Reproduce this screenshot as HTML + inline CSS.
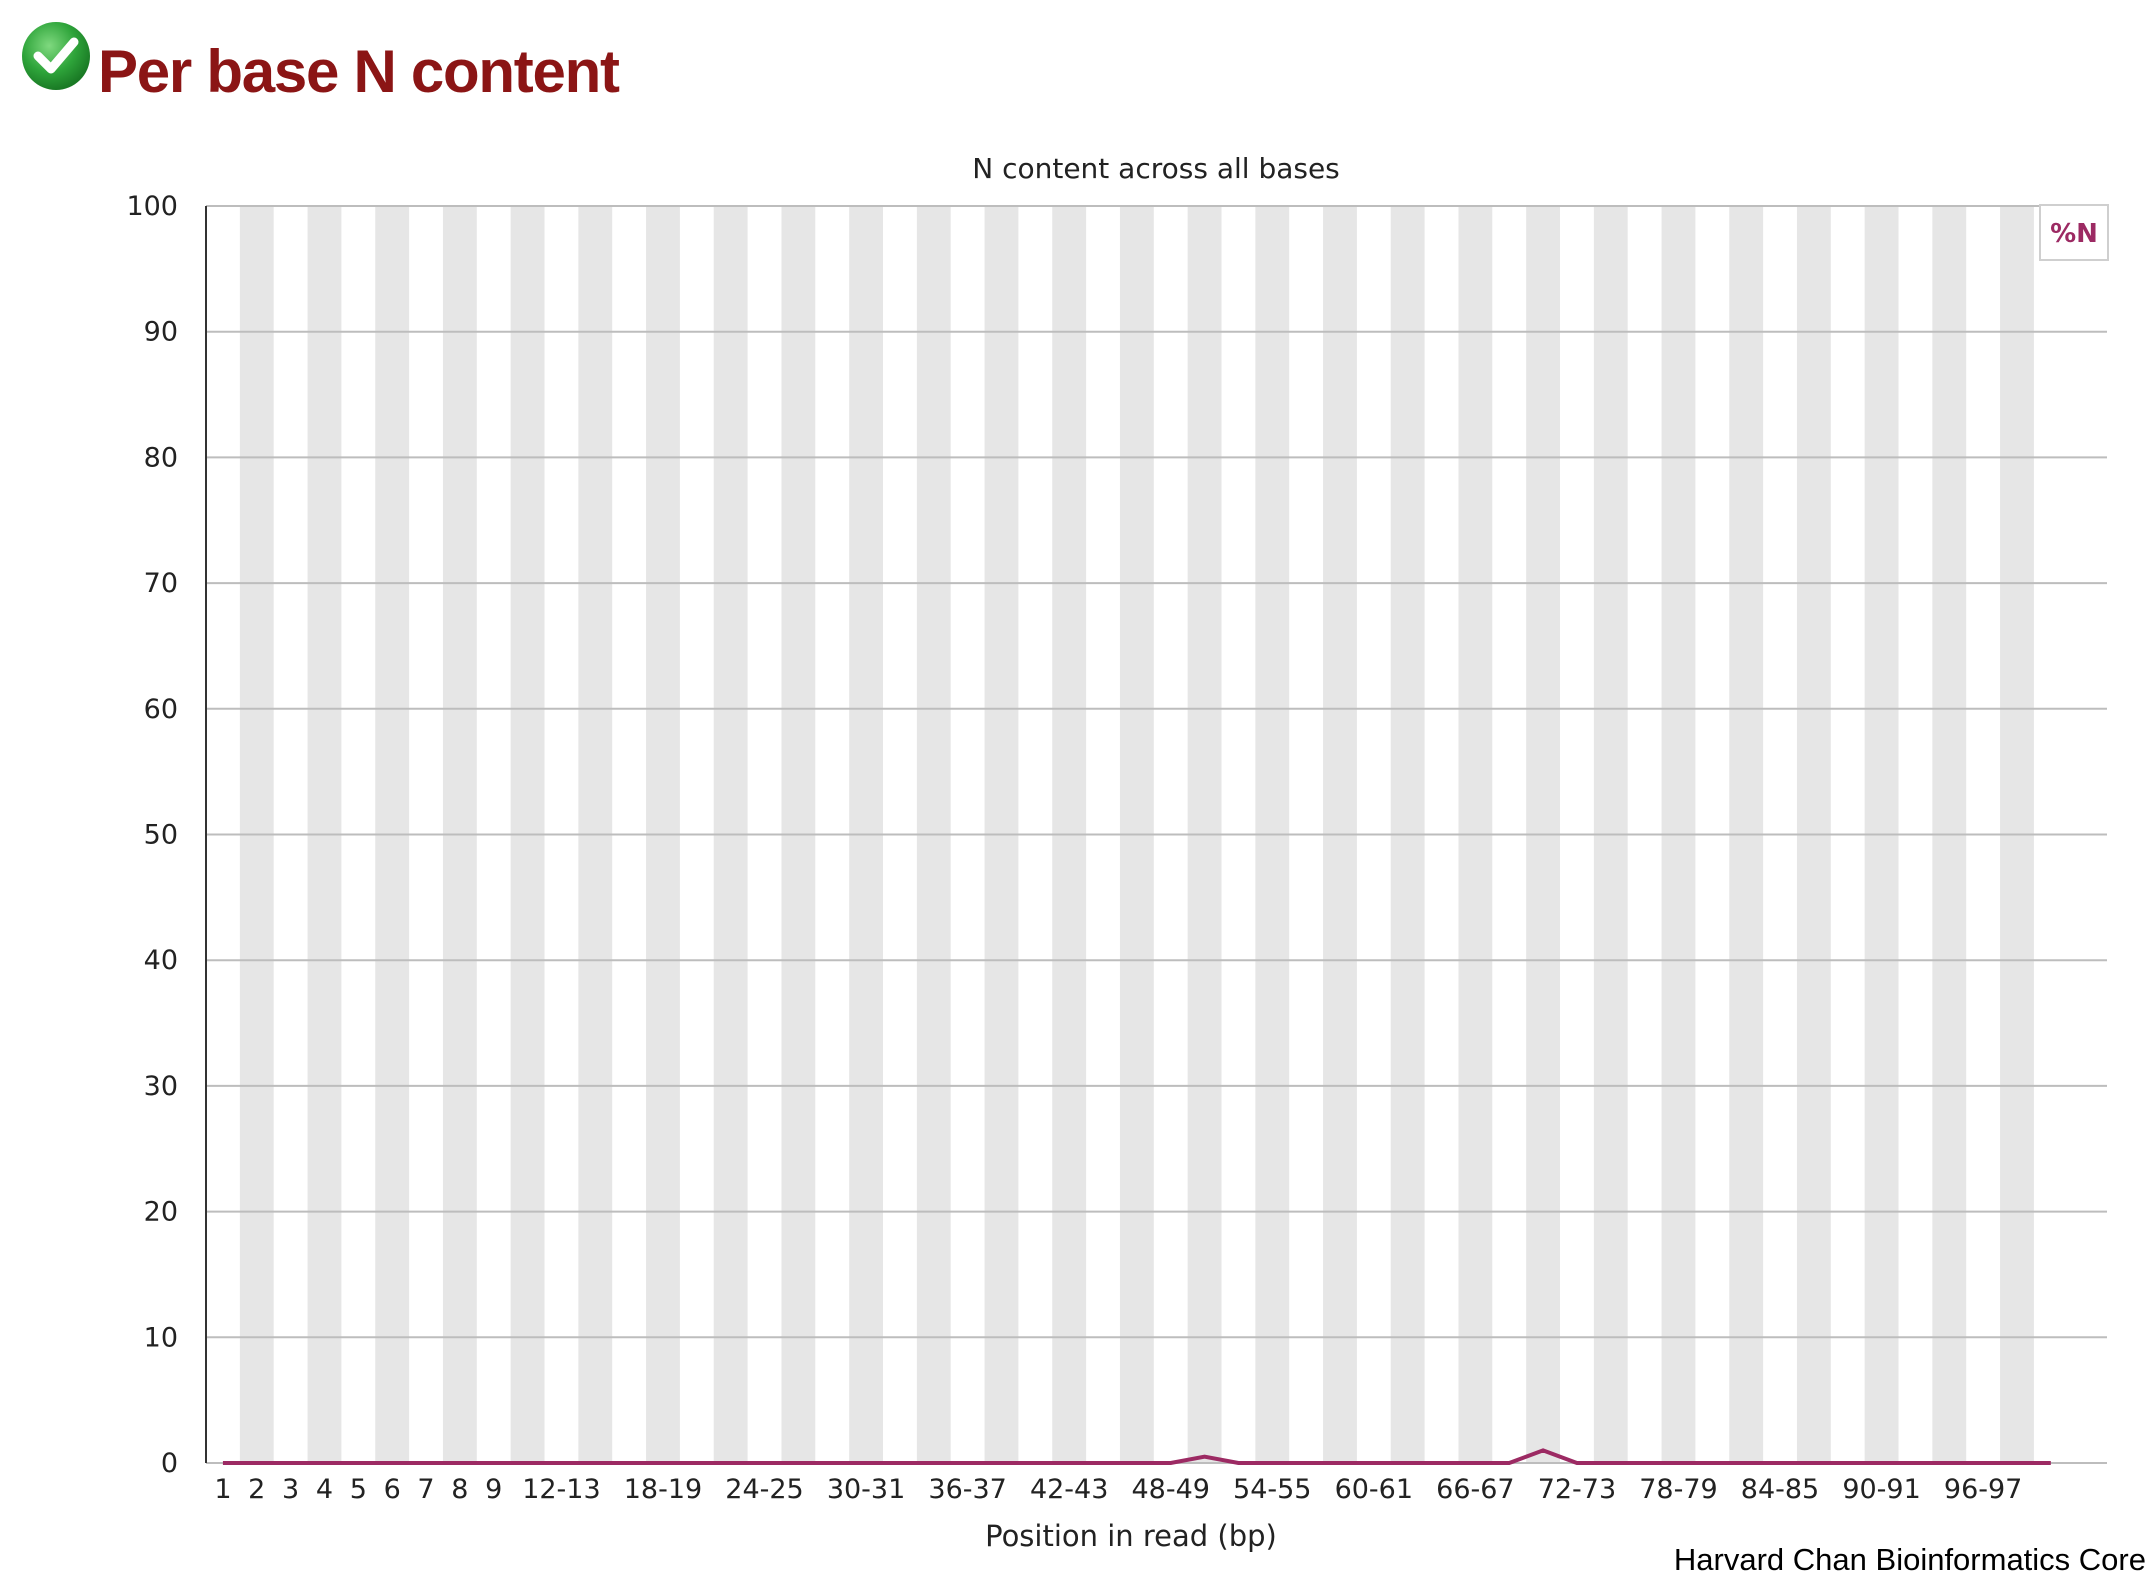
<!DOCTYPE html>
<html><head><meta charset="utf-8"><style>
body{margin:0;background:#fff;width:2150px;height:1583px;overflow:hidden}
svg text{font-family:"DejaVu Sans","Liberation Sans",sans-serif}
</style></head><body>
<svg id="c" width="2150" height="1583" viewBox="0 0 2150 1583" xmlns="http://www.w3.org/2000/svg">
<defs><radialGradient id="g" cx="40%" cy="35%" r="65%"><stop offset="0" stop-color="#7fd97f"/><stop offset="0.6" stop-color="#2ea43a"/><stop offset="1" stop-color="#1a7a25"/></radialGradient></defs>
<g><circle cx="56" cy="56" r="34" fill="url(#g)"/><path d="M38 56 L51 69 L74 42" stroke="#fff" stroke-width="9" fill="none" stroke-linecap="round" stroke-linejoin="round"/></g>
<text x="98" y="92" font-family="Liberation Sans" font-weight="bold" font-size="60" fill="#8b1515" style="font-family:'Liberation Sans',sans-serif" textLength="522">Per base N content</text>
<g id="plot"></g>
<text x="1156" y="178" font-size="28" text-anchor="middle" fill="#222">N content across all bases</text>
<text x="1131" y="1546" font-size="29" text-anchor="middle" fill="#222">Position in read (bp)</text>
<text x="2146" y="1570" font-size="31" text-anchor="end" fill="#000" style="font-family:'Liberation Sans',sans-serif">Harvard Chan Bioinformatics Core</text>
</svg>
<script>
const categories=["1","2","3","4","5","6","7","8","9"];
for(let b=10;b<=100;b+=2)categories.push(b+"-"+(b+1));
const nValues=[0,0,0,0,0,0,0,0,0,0,0,0,0,0,0,0,0,0,0,0,0,0,0,0,0,0,0,0,0,0.5,0,0,0,0,0,0,0,0,0,1.0,0,0,0,0,0,0,0,0,0,0,0,0,0,0,0];
const yTicks=[0,10,20,30,40,50,60,70,80,90,100];
const xLabelIdx=[0,1,2,3,4,5,6,7,8,10,13,16,19,22,25,28,31,34,37,40,43,46,49,52];
const L=206,R=2107,T=206,B=1463,W=33.85;
const NS="http://www.w3.org/2000/svg";
const g=document.getElementById('plot');
const X=i=>L+(i+0.5)*W, Y=v=>B-(v/100)*(B-T);
function mk(t,a){const e=document.createElementNS(NS,t);for(const k in a)e.setAttribute(k,a[k]);g.appendChild(e);return e;}
for(let i=1;i<categories.length;i+=2){
 const r=mk('rect',{x:L+i*W,y:T,width:W,height:B-T,fill:'#e6e6e6'});
 
 
}
yTicks.forEach(v=>{
 const l=mk('line',{x1:L,x2:R,y1:Y(v),y2:Y(v),stroke:'#bdbdbd','stroke-width':2});
 
 
 const t=mk('text',{x:178,y:Y(v)+9,'font-size':27,'text-anchor':'end',fill:'#222'});
 t.textContent=v;
 
 
});
const ax=mk('line',{x1:L,x2:L,y1:T,y2:B,stroke:'#333','stroke-width':2});


xLabelIdx.forEach(i=>{
 const t=mk('text',{x:X(i),y:B+35,'font-size':27,'text-anchor':'middle',fill:'#222'});
 t.textContent=categories[i];
 
 
});
const pl=mk('polyline',{points:nValues.map((v,i)=>X(i)+','+Y(v)).join(' '),fill:'none',stroke:'#9c2a63','stroke-width':4});


const lb=mk('rect',{x:2040,y:205,width:68,height:55,fill:'#fff',stroke:'#cfcfcf','stroke-width':2});


const lt=mk('text',{x:2074,y:242,'font-size':26,'text-anchor':'middle',fill:'#9c2a63','font-weight':'bold'});
lt.textContent='%N';


</script>
</body></html>
